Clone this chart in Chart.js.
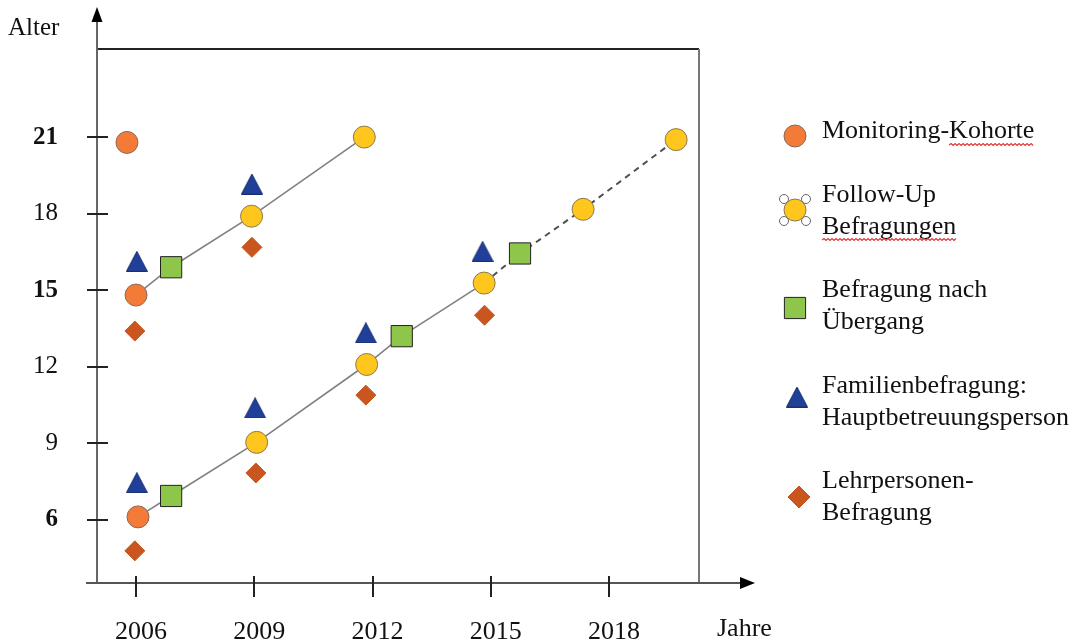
<!DOCTYPE html>
<html>
<head>
<meta charset="utf-8">
<title>Alter / Jahre</title>
<script src="https://cdn.jsdelivr.net/npm/chart.js@4/dist/chart.umd.min.js"></script>
<style>
  html, body { margin: 0; padding: 0; background: #fff; }
  #wrap { width: 1088px; height: 640px; }
</style>
</head>
<body>
<div id="wrap"><canvas id="chart" width="1088" height="640"></canvas></div>
<script>
const FONT = '"Liberation Serif", "Times New Roman", serif';

const xTicks = [2006, 2009, 2012, 2015, 2018];
const yTicks = [6, 9, 12, 15, 18, 21];
const boldYTicks = [6, 15, 21];

// Monitoring-Kohorte
const kohorteYears = [2005.77, 2006.0, 2006.05];
const kohorteAges = [20.79, 14.81, 6.12];
// Follow-Up Befragungen
const followUpYears = [2008.93, 2011.79, 2009.06, 2011.85, 2014.83, 2017.34, 2019.7];
const followUpAges = [17.9, 21.0, 9.04, 12.09, 15.28, 18.17, 20.9];
// Befragung nach Übergang
const uebergangYears = [2006.89, 2006.89, 2012.74, 2015.74];
const uebergangAges = [15.9, 6.94, 13.2, 16.44];
// Familienbefragung: Hauptbetreuungsperson
const familieYears = [2006.02, 2008.94, 2006.02, 2009.02, 2011.83, 2014.79];
const familieAges = [16.13, 19.16, 7.46, 10.39, 13.33, 16.52];
// Lehrpersonen-Befragung
const lehrerYears = [2005.97, 2005.97, 2008.94, 2009.04, 2011.83, 2014.84];
const lehrerAges = [13.4, 4.79, 16.68, 7.84, 10.89, 14.02];

// cohort lines, as [series, index] into the point lists above
const olderPath = [["k", 1], ["u", 0], ["f", 0], ["f", 1]];
const youngerPath = [["k", 2], ["u", 1], ["f", 2], ["f", 3], ["u", 2], ["f", 4]];
const projectedPath = [["f", 4], ["u", 3], ["f", 5], ["f", 6]];

const legendLabels = [
  ["Monitoring-Kohorte"],
  ["Follow-Up", "Befragungen"],
  ["Befragung nach", "Übergang"],
  ["Familienbefragung:", "Hauptbetreuungsperson"],
  ["Lehrpersonen-", "Befragung"],
];

const COLORS = {
  kohorte: "#F47A38",
  followUp: "#FFC61E",
  uebergang: "#8DC64A",
  familie: "#1F3F99",
  lehrer: "#C9561F",
};

const pts = (xs, ys) => xs.map((x, i) => ({ x, y: ys[i] }));

const series = {
  k: pts(kohorteYears, kohorteAges),
  f: pts(followUpYears, followUpAges),
  u: pts(uebergangYears, uebergangAges),
  t: pts(familieYears, familieAges),
  l: pts(lehrerYears, lehrerAges),
};

const path = (refs) => refs.map(([s, i]) => series[s][i]);

// taller-than-equilateral triangle like in the original
function makeTriangle(w, h, color) {
  const c = document.createElement("canvas");
  c.width = w;
  c.height = h;
  const g = c.getContext("2d");
  g.fillStyle = color;
  g.strokeStyle = "#1a2f70";
  g.lineWidth = 1;
  g.beginPath();
  g.moveTo(w / 2, 0.5);
  g.lineTo(w - 0.5, h - 0.5);
  g.lineTo(0.5, h - 0.5);
  g.closePath();
  g.fill();
  g.stroke();
  return c;
}
const triangleImg = makeTriangle(22, 21, COLORS.familie);

function segment(ctx, x1, y1, x2, y2, color, width) {
  ctx.strokeStyle = color;
  ctx.lineWidth = width;
  ctx.beginPath();
  ctx.moveTo(x1, y1);
  ctx.lineTo(x2, y2);
  ctx.stroke();
}

const axesPlugin = {
  id: "axes",
  beforeDatasetsDraw(chart) {
    const { ctx, chartArea: ca, scales } = chart;
    ctx.save();
    // frame
    segment(ctx, ca.left, ca.top, ca.right, ca.top, "#222", 2);
    segment(ctx, ca.right, ca.top, ca.right, ca.bottom, "#777", 2);
    // y axis with arrow
    segment(ctx, ca.left, ca.bottom, ca.left, 20, "#666", 2);
    ctx.fillStyle = "#000";
    ctx.beginPath();
    ctx.moveTo(ca.left, 7);
    ctx.lineTo(ca.left + 5.5, 22);
    ctx.lineTo(ca.left - 5.5, 22);
    ctx.closePath();
    ctx.fill();
    // x axis with arrow
    segment(ctx, 86, ca.bottom, 742, ca.bottom, "#555", 2);
    ctx.beginPath();
    ctx.moveTo(755, ca.bottom);
    ctx.lineTo(740, ca.bottom - 6);
    ctx.lineTo(740, ca.bottom + 6);
    ctx.closePath();
    ctx.fill();
    // tick marks
    yTicks.forEach((v) => {
      const py = Math.round(scales.y.getPixelForValue(v));
      segment(ctx, ca.left - 10, py, ca.left + 11, py, "#222", 2);
    });
    xTicks.forEach((v) => {
      const px = Math.round(scales.x.getPixelForValue(v));
      segment(ctx, px, ca.bottom - 7, px, ca.bottom + 14, "#222", 2);
    });
    ctx.restore();
  },
  afterDraw(chart) {
    const { ctx } = chart;
    ctx.save();
    ctx.fillStyle = "#111";
    ctx.font = "25px " + FONT;
    ctx.textBaseline = "alphabetic";
    ctx.textAlign = "left";
    ctx.fillText("Alter", 8, 35);
    ctx.font = "26px " + FONT;
    ctx.fillText("Jahre", 717, 636);
    ctx.restore();
  },
};

function wavy(ctx, x1, x2, y) {
  ctx.strokeStyle = "#e03a3a";
  ctx.lineWidth = 1.2;
  ctx.beginPath();
  let up = true;
  ctx.moveTo(x1, y);
  for (let x = x1 + 2; x <= x2; x += 2) {
    ctx.lineTo(x, up ? y - 1.5 : y + 0.5);
    up = !up;
  }
  ctx.stroke();
}

const legendPlugin = {
  id: "sideLegend",
  afterDraw(chart) {
    const { ctx } = chart;
    const drawPoint = Chart.helpers.drawPoint;
    const textX = 822;
    const lineGap = 32;
    const items = [
      { cy: 136, base: 138, style: "circle", r: 11, fill: COLORS.kohorte, stroke: "#8a6a5a" },
      { cy: 210, base: 202, style: "circle", r: 11, fill: COLORS.followUp, stroke: "#8a7a50", handles: true },
      { cy: 308, base: 297, style: "rect", r: 15, fill: COLORS.uebergang, stroke: "#222" },
      { cy: 397, base: 393, style: triangleImg },
      { cy: 497, base: 488, style: "rectRot", r: 11, fill: COLORS.lehrer, stroke: COLORS.lehrer },
    ];
    ctx.save();
    ctx.font = "26px " + FONT;
    items.forEach((it, i) => {
      const cx = 795 + (i >= 3 ? 2 + (i - 3) * 2 : 0);
      ctx.fillStyle = it.fill || "#000";
      ctx.strokeStyle = it.stroke || "#000";
      ctx.lineWidth = 1;
      drawPoint(ctx, { pointStyle: it.style, radius: it.r || 11, rotation: 0, borderWidth: 1 }, cx, it.cy);
      if (it.handles) {
        [[-11, -11], [11, -11], [-11, 11], [11, 11]].forEach(([dx, dy]) => {
          ctx.beginPath();
          ctx.arc(cx + dx, it.cy + dy, 4.5, 0, Math.PI * 2);
          ctx.fillStyle = "#fff";
          ctx.fill();
          ctx.strokeStyle = "#666";
          ctx.stroke();
        });
      }
      ctx.fillStyle = "#111";
      ctx.textAlign = "left";
      ctx.textBaseline = "alphabetic";
      legendLabels[i].forEach((line, j) => {
        ctx.fillText(line, textX, it.base + j * lineGap);
      });
    });
    // spell-check squiggles from the original screenshot
    const kStart = textX + ctx.measureText("Monitoring-").width;
    const kEnd = textX + ctx.measureText("Monitoring-Kohorte").width;
    wavy(ctx, kStart, kEnd, 145);
    wavy(ctx, textX, textX + ctx.measureText("Befragungen").width, 240);
    ctx.restore();
  },
};

const lineDefaults = { showLine: true, pointRadius: 0, fill: false, order: 10 };
const markerDefaults = { showLine: false, borderWidth: 1, order: 0 };

new Chart(document.getElementById("chart"), {
  type: "scatter",
  data: {
    datasets: [
      { ...lineDefaults, label: "older", data: path(olderPath), borderColor: "#808080", borderWidth: 1.6 },
      { ...lineDefaults, label: "younger", data: path(youngerPath), borderColor: "#808080", borderWidth: 1.6 },
      { ...lineDefaults, label: "projected", data: path(projectedPath), borderColor: "#505050", borderWidth: 2, borderDash: [6, 5] },
      { ...markerDefaults, label: "Monitoring-Kohorte", data: series.k, pointStyle: "circle", pointRadius: 11,
        backgroundColor: COLORS.kohorte, borderColor: "#8a6a5a" },
      { ...markerDefaults, label: "Follow-Up Befragungen", data: series.f, pointStyle: "circle", pointRadius: 11,
        backgroundColor: COLORS.followUp, borderColor: "#8a7a50" },
      { ...markerDefaults, label: "Befragung nach Übergang", data: series.u, pointStyle: "rect", pointRadius: 15,
        backgroundColor: COLORS.uebergang, borderColor: "#222" },
      { ...markerDefaults, label: "Familienbefragung: Hauptbetreuungsperson", data: series.t, pointStyle: triangleImg,
        pointRadius: 11 },
      { ...markerDefaults, label: "Lehrpersonen-Befragung", data: series.l, pointStyle: "rectRot", pointRadius: 10,
        backgroundColor: COLORS.lehrer, borderColor: COLORS.lehrer },
    ],
  },
  options: {
    responsive: false,
    animation: false,
    events: [],
    layout: { padding: { top: 49, right: 389, left: 0, bottom: 0 } },
    plugins: { legend: { display: false }, tooltip: { enabled: false } },
    scales: {
      x: {
        type: "linear",
        min: 2005.01,
        max: 2020.28,
        // fixed axis box so the plot frame lands where the original has it
        afterFit: (s) => { s.height = 57; s.paddingLeft = 0; s.paddingRight = 0; },
        afterBuildTicks: (s) => { s.ticks = xTicks.map((v) => ({ value: v })); },
        grid: { display: false, drawTicks: false },
        border: { display: false },
        ticks: {
          autoSkip: false,
          maxRotation: 0,
          padding: 34,
          labelOffset: 5,
          color: "#111",
          font: { family: FONT, size: 26 },
          callback: (v) => String(v),
        },
      },
      y: {
        type: "linear",
        min: 3.53,
        max: 24.45,
        afterFit: (s) => { s.width = 97; s.paddingTop = 0; s.paddingBottom = 0; },
        afterBuildTicks: (s) => { s.ticks = yTicks.map((v) => ({ value: v })); },
        grid: { display: false, drawTicks: false },
        border: { display: false },
        ticks: {
          autoSkip: false,
          padding: 39,
          color: "#111",
          font: (c) => ({
            family: FONT,
            size: 25,
            weight: c.tick && boldYTicks.includes(c.tick.value) ? "bold" : "normal",
          }),
          callback: (v) => String(v),
        },
      },
    },
  },
  plugins: [axesPlugin, legendPlugin],
});
</script>
</body>
</html>
